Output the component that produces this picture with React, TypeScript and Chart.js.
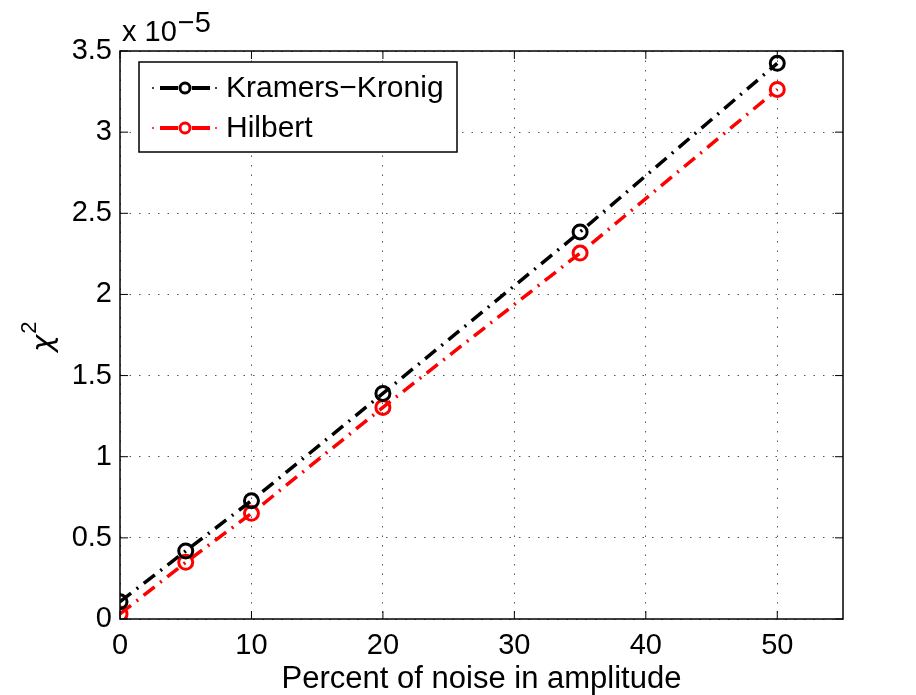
import React, { useEffect, useRef } from "react";
import { Chart, registerables } from "chart.js";

Chart.register(...registerables);

// Data (y values in units of 1e-5)
const noisePercent = [0, 5, 10, 20, 35, 50];
const kramersKronig = [0.107, 0.419, 0.729, 1.39, 2.385, 3.424];
const hilbert = [0.031, 0.349, 0.651, 1.304, 2.255, 3.263];
const seriesNames = ["Kramers\u2212Kronig", "Hilbert"];
const seriesColors = ["#000000", "#ff0000"];
const xTickValues = [0, 10, 20, 30, 40, 50];
const yTickValues = [0, 0.5, 1, 1.5, 2, 2.5, 3, 3.5];
const xTitle = "Percent of noise in amplitude";
const exponentText = "\u22125";

const FONT = '"Liberation Sans", Arial, Helvetica, sans-serif';
const DASH = [14, 7, 2, 7];

const overlayPlugin = {
  id: "matlabOverlay",
  afterDraw(chart: any) {
    const ctx = chart.ctx;
    const { left, right, top, bottom } = chart.chartArea;
    const xs = chart.scales.x;
    const ys = chart.scales.y;
    ctx.save();
    // box
    ctx.strokeStyle = "#000";
    ctx.lineWidth = 1.5;
    ctx.setLineDash([]);
    ctx.strokeRect(left, top, right - left, bottom - top);
    // inward ticks
    const tl = 8;
    ctx.lineWidth = 1;
    ctx.beginPath();
    xTickValues.forEach((v) => {
      const px = xs.getPixelForValue(v);
      ctx.moveTo(px, bottom);
      ctx.lineTo(px, bottom - tl);
      ctx.moveTo(px, top);
      ctx.lineTo(px, top + tl);
    });
    yTickValues.forEach((v) => {
      const py = ys.getPixelForValue(v);
      ctx.moveTo(left, py);
      ctx.lineTo(left + tl, py);
      ctx.moveTo(right, py);
      ctx.lineTo(right - tl, py);
    });
    ctx.stroke();

    // exponent label
    ctx.fillStyle = "#000";
    ctx.font = `29px ${FONT}`;
    ctx.textAlign = "left";
    ctx.textBaseline = "alphabetic";
    ctx.fillText("x 10", 122, 41);
    const w10 = ctx.measureText("x 10").width;
    ctx.fillText(exponentText, 122 + w10 + 1, 32);

    // x title
    ctx.font = `31px ${FONT}`;
    ctx.textAlign = "center";
    ctx.fillText(xTitle, (left + right) / 2, 688);

    // y title chi^2
    ctx.save();
    ctx.translate(52, 352);
    ctx.rotate(-Math.PI / 2);
    ctx.textAlign = "left";
    ctx.font = `italic 29px "DejaVu Sans", sans-serif`;
    ctx.fillText("\u03c7", 0, 0);
    const wc = ctx.measureText("\u03c7").width;
    ctx.font = `22px ${FONT}`;
    ctx.fillText("2", wc + 1, -16);
    ctx.restore();

    // legend
    const lx = 139, ly = 62, lw = 318, lh = 90;
    ctx.fillStyle = "#fff";
    ctx.fillRect(lx, ly, lw, lh);
    ctx.strokeStyle = "#000";
    ctx.lineWidth = 1.5;
    ctx.strokeRect(lx, ly, lw, lh);
    const rows = [88, 128];
    seriesNames.forEach((name, i) => {
      const y = rows[i];
      const c = seriesColors[i];
      ctx.strokeStyle = c;
      ctx.lineWidth = 1.5;
      ctx.beginPath();
      ctx.moveTo(152, y);
      ctx.lineTo(154, y);
      ctx.moveTo(215, y);
      ctx.lineTo(217, y);
      ctx.stroke();
      ctx.lineWidth = 4;
      ctx.beginPath();
      ctx.moveTo(160, y);
      ctx.lineTo(178, y);
      ctx.moveTo(192, y);
      ctx.lineTo(210, y);
      ctx.stroke();
      ctx.lineWidth = 3;
      ctx.beginPath();
      ctx.arc(185, y, 5, 0, Math.PI * 2);
      ctx.stroke();
      ctx.fillStyle = "#000";
      ctx.font = `30px ${FONT}`;
      ctx.textAlign = "left";
      ctx.textBaseline = "middle";
      ctx.fillText(name, 226, y + 1);
    });
    ctx.restore();
  },
};

export default function App() {
  const ref = useRef<HTMLCanvasElement>(null);
  useEffect(() => {
    document.body.style.margin = "0";
    const canvas = ref.current!;
    const mk = (vals: number[]) => noisePercent.map((x, i) => ({ x, y: vals[i] }));
    const chart = new Chart(canvas, {
      type: "scatter",
      data: {
        datasets: [kramersKronig, hilbert].map((vals, i) => ({
          label: seriesNames[i],
          data: mk(vals),
          showLine: true,
          borderColor: seriesColors[i],
          borderWidth: 3.5,
          borderDash: DASH,
          pointRadius: 7,
          pointBorderWidth: 3,
          pointBorderColor: seriesColors[i],
          pointBackgroundColor: "rgba(0,0,0,0)",
          pointStyle: "circle",
        })),
      },
      options: {
        animation: false,
        responsive: false,
        devicePixelRatio: 1,
        layout: { padding: { top: 51, right: 73, left: 0, bottom: 0 } },
        plugins: { legend: { display: false }, tooltip: { enabled: false } },
        scales: {
          x: {
            type: "linear",
            min: 0,
            max: 55,
            afterFit: (s: any) => {
              s.height = 76;
            },
            afterBuildTicks: (s: any) => {
              s.ticks = xTickValues.map((v) => ({ value: v }));
            },
            grid: { color: "#555", lineWidth: 1, drawTicks: false },
            border: { display: false, dash: [1.5, 8] },
            ticks: {
              padding: 10,
              color: "#000",
              font: { family: FONT, size: 29 },
              callback: (v: any) => String(v),
              maxRotation: 0,
            },
          },
          y: {
            type: "linear",
            min: 0,
            max: 3.5,
            afterFit: (s: any) => {
              s.width = 120;
            },
            afterBuildTicks: (s: any) => {
              s.ticks = yTickValues.map((v) => ({ value: v }));
            },
            grid: { color: "#555", lineWidth: 1, drawTicks: false },
            border: { display: false, dash: [1.5, 8] },
            ticks: {
              padding: 8,
              color: "#000",
              font: { family: FONT, size: 29 },
              callback: (v: any) => String(v),
            },
          },
        },
      },
      plugins: [overlayPlugin],
    });
    return () => chart.destroy();
  }, []);
  return (
    <div style={{ position: "absolute", left: 0, top: 0, width: 916, height: 695, background: "#fff" }}>
      <canvas ref={ref} width={916} height={695} />
    </div>
  );
}
